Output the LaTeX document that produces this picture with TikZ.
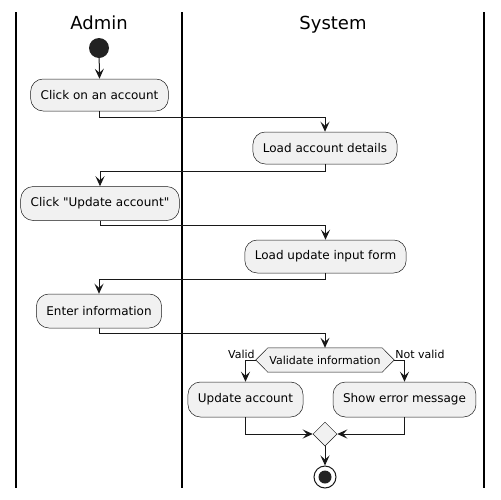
\documentclass[tikz,border=0pt]{standalone}
\usepackage{fontspec}
\setmainfont{DejaVu Sans}
\newfontfamily\dvplain{DejaVu Sans}
\usetikzlibrary{arrows.meta,shapes.geometric}
\definecolor{boxfill}{HTML}{F1F1F1}
\definecolor{ink}{HTML}{181818}
\definecolor{dot}{HTML}{222222}
\tikzset{
  act/.style={draw=ink, line width=0.5pt, fill=boxfill, rounded corners=12.5pt,
    minimum height=33pt, inner xsep=10pt, inner ysep=4pt, font=\dvplain\fontsize{12}{14}\selectfont},
  flow/.style={draw=ink, line width=1pt, -{Stealth[length=10pt,width=9pt,inset=4pt]}},
  lane/.style={draw=black, line width=1.5pt},
  lanetitle/.style={font=\dvplain\fontsize{18}{21}\selectfont, inner sep=0pt},
  lbl/.style={font=\dvplain\fontsize{11}{13}\selectfont, inner sep=0pt},
}
\begin{document}
\begin{tikzpicture}[x=1pt,y=-1pt]
\useasboundingbox (0,0) rectangle (501,499);
% swimlanes
\coordinate (l1t) at (16,12); \coordinate (l1b) at (16,488);
\coordinate (l2t) at (182,12); \coordinate (l2b) at (182,488);
\coordinate (l3t) at (484,12); \coordinate (l3b) at (484,488);
\draw[lane] (l1t) -- (l1b);
\draw[lane] (l2t) -- (l2b);
\draw[lane] (l3t) -- (l3b);
\node[lanetitle, anchor=base] (tadmin) at (99,29) {Admin};
\node[lanetitle, anchor=base] (tsys) at (333,29) {System};
% start
\node[circle, fill=dot, minimum size=20pt, inner sep=0pt] (start) at (99,48) {};
\node[act, minimum height=32pt] (a1) at (99.5,95) {Click on an account};
\node[act, minimum height=32pt] (s1) at (325,148) {Load account details};
\node[act, minimum height=34pt] (a2) at (100,203.5) {Click "Update account"};
\node[act] (s2) at (325.5,256.5) {Load update input form};
\node[act, minimum height=34pt] (a3) at (99,311) {Enter information};
% decision
\node[inner sep=0pt, minimum width=114pt, minimum height=24pt] (dec) at (325,360) {};
\draw[draw=ink, line width=0.5pt, fill=boxfill]
  (dec.north west) -- (dec.north east) -- ([xshift=12pt]dec.east) -- (dec.south east)
  -- (dec.south west) -- ([xshift=-12pt]dec.west) -- cycle;
\node[lbl] (dectext) at (dec.center) {Validate information};
\coordinate (decL) at ([xshift=-12pt]dec.west);
\coordinate (decR) at ([xshift=12pt]dec.east);
\node[lbl, anchor=base east] (lvalid) at ([xshift=-1pt,yshift=2pt]decL) {Valid};
\node[lbl, anchor=base west] (lnot) at ([xshift=1pt,yshift=2pt]decR) {Not valid};
\node[act, minimum height=35pt] (s3) at (245.5,399.5) {Update account};
\node[act, minimum height=35pt] (s4) at (404.5,399.5) {Show error message};
\node[diamond, draw=ink, line width=0.5pt, fill=boxfill, minimum width=24pt, minimum height=24pt, inner sep=0pt] (merge) at (325,434) {};
% end
\node[circle, draw=ink, line width=1pt, fill=white, minimum size=22pt, inner sep=0pt] (end) at (325,477) {};
\node[circle, fill=dot, minimum size=13pt, inner sep=0pt] (endin) at (end.center) {};
% flows
\draw[flow] (start) -- (a1.north);
\draw[flow] (a1.south) -- ++(0,6) -| (s1.north);
\draw[flow] (s1.south) -- ++(0,7) -| (a2.north);
\draw[flow] (a2.south) -- ++(0,5) -| (s2.north);
\draw[flow] (s2.south) -- ++(0,6) -| (a3.north);
\draw[flow] (a3.south) -- ++(0,5) -| (dec.north);
\draw[flow] (decL) -| (s3.north);
\draw[flow] (decR) -| (s4.north);
\draw[flow] (s3.south) |- (merge.west);
\draw[flow] (s4.south) |- (merge.east);
\draw[flow] (merge.south) -- (end.north);
\end{tikzpicture}
\end{document}
